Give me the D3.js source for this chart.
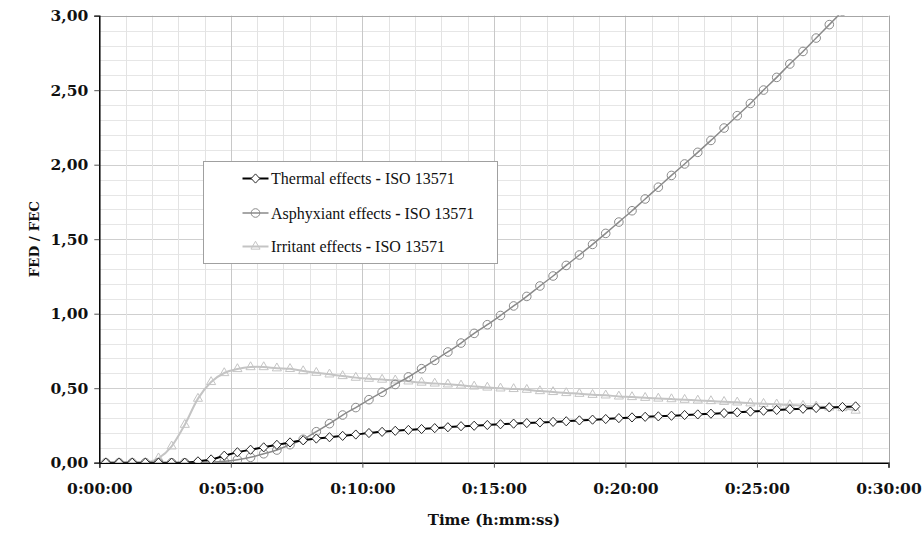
<!DOCTYPE html>
<html><head><meta charset="utf-8">
<script src="https://cdn.jsdelivr.net/npm/d3@7/dist/d3.min.js"></script>
<style>body{margin:0;background:#fff}svg{display:block}</style>
</head><body>
<svg id="chart" width="923" height="533"></svg>
<script>
// time of each sample, in seconds
const times = [15,45,75,105,135,165,195,225,255,285,315,345,375,405,435,465,495,525,555,585,615,645,675,705,735,765,795,825,855,885,915,945,975,1005,1035,1065,1095,1125,1155,1185,1215,1245,1275,1305,1335,1365,1395,1425,1455,1485,1515,1545,1575,1605,1635,1665,1695,1725];
const thermal = [0,0,0,0,0,0,0,0.009,0.022,0.047,0.07,0.087,0.103,0.12,0.136,0.15,0.162,0.171,0.18,0.189,0.199,0.207,0.214,0.22,0.226,0.232,0.238,0.245,0.248,0.253,0.258,0.262,0.266,0.27,0.274,0.278,0.284,0.289,0.293,0.299,0.304,0.308,0.311,0.315,0.32,0.324,0.329,0.333,0.338,0.343,0.349,0.354,0.359,0.362,0.367,0.371,0.374,0.378];
const asphyxiant = [0,0,0,0,0,0,0,0,0.003,0.009,0.02,0.036,0.06,0.085,0.121,0.157,0.208,0.262,0.32,0.37,0.423,0.473,0.525,0.576,0.631,0.687,0.743,0.803,0.868,0.926,0.988,1.052,1.116,1.186,1.253,1.324,1.394,1.465,1.539,1.615,1.691,1.77,1.849,1.928,2.005,2.083,2.163,2.246,2.329,2.411,2.501,2.586,2.676,2.76,2.85,2.94,3.03,3.12];
const irritant = [0,0,0,0,0.03,0.11,0.255,0.43,0.542,0.602,0.629,0.642,0.642,0.634,0.63,0.615,0.604,0.593,0.582,0.571,0.564,0.558,0.553,0.546,0.538,0.532,0.526,0.519,0.512,0.505,0.499,0.495,0.49,0.481,0.475,0.468,0.463,0.456,0.452,0.445,0.441,0.436,0.431,0.427,0.423,0.418,0.414,0.409,0.405,0.399,0.396,0.392,0.387,0.383,0.378,0.371,0.367,0.35];
const seriesNames = ["Thermal effects", "Asphyxiant effects", "Irritant effects"];
const seriesSuffix = "ISO 13571";
const xTickValues = [0,300,600,900,1200,1500,1800];
const xTickLabels = ["0:00:00","0:05:00","0:10:00","0:15:00","0:20:00","0:25:00","0:30:00"];
const yTickValues = [0,0.5,1,1.5,2,2.5,3];
const yTickLabels = ["0,00","0,50","1,00","1,50","2,00","2,50","3,00"];
const xTitle = "Time (h:mm:ss)";
const yTitle = "FED / FEC";

const svg = d3.select("#chart");
const L = 99.3, R = 888.5, T = 15.7, B = 462.7;
const x = d3.scaleLinear().domain([0,1800]).range([L,R]);
const y = d3.scaleLinear().domain([0,3]).range([B,T]);

svg.append("defs").append("clipPath").attr("id","clip")
  .append("rect").attr("x",L).attr("y",T-0.5).attr("width",R-L).attr("height",B-T+0.5);

// grid
const grid = svg.append("g");
grid.selectAll(".hmin").data(y.ticks(30)).join("line")
  .attr("x1",L).attr("x2",R).attr("y1",d=>Math.round(y(d))+0.5).attr("y2",d=>Math.round(y(d))+0.5)
  .attr("stroke",d=>Math.abs(d*2-Math.round(d*2))<1e-6?"#cfcfcf":"#e6e6e6").attr("stroke-width",1);
grid.selectAll(".vmin").data(d3.range(0,1801,60)).join("line")
  .attr("y1",T).attr("y2",B).attr("x1",d=>Math.round(x(d))+0.5).attr("x2",d=>Math.round(x(d))+0.5)
  .attr("stroke",d=>d%300===0?"#c8c8c8":"#e3e3e3").attr("stroke-width",1);
svg.append("line").attr("x1",L).attr("x2",R).attr("y1",Math.round(T)+0.5).attr("y2",Math.round(T)+0.5).attr("stroke","#a6a6a6");
svg.append("line").attr("x1",Math.round(R)+0.5).attr("x2",Math.round(R)+0.5).attr("y1",T).attr("y2",B).attr("stroke","#a6a6a6");

// axes
const fontB = "'DejaVu Serif', serif";
const xAxis = svg.append("g").attr("transform",`translate(0,${B})`)
  .call(d3.axisBottom(x).tickValues(xTickValues).tickFormat((d,i)=>xTickLabels[i]).tickSize(5).tickPadding(15));
const yAxis = svg.append("g").attr("transform",`translate(${L},0)`)
  .call(d3.axisLeft(y).tickValues(yTickValues).tickFormat((d,i)=>yTickLabels[i]).tickSize(5).tickPadding(6));
[xAxis,yAxis].forEach(a=>{
  a.select(".domain").attr("stroke","#000").attr("stroke-width",1.5);
  a.selectAll(".tick line").attr("stroke","#555");
  a.selectAll("text").attr("font-family",fontB).attr("font-weight","bold").attr("font-size","15.5px").attr("fill","#111");
});

svg.append("text").attr("x",(L+R)/2).attr("y",525).attr("text-anchor","middle")
  .attr("font-family",fontB).attr("font-weight","bold").attr("font-size","15px").attr("fill","#111").text(xTitle);
svg.append("text").attr("transform",`translate(39,${(T+B)/2}) rotate(-90)`).attr("text-anchor","middle")
  .attr("font-family",fontB).attr("font-weight","bold").attr("font-size","13.5px").attr("fill","#111").text(yTitle);

// series
const series = [
  {name:seriesNames[2], vals:irritant, line:"#c4c4c4", lw:2, mk:"#c4c4c4", shape:"tri", fill:"none"},
  {name:seriesNames[1], vals:asphyxiant, line:"#8a8a8a", lw:1.5, mk:"#8a8a8a", shape:"circ", fill:"none"},
  {name:seriesNames[0], vals:thermal, line:"#000", lw:2, mk:"#2a2a2a", shape:"dia", fill:"#fff"}
];
const line = d3.line().x(d=>x(d[0])).y(d=>y(d[1])).curve(d3.curveCardinal);
const diamond = {draw(ctx){ ctx.moveTo(0,-4.6); ctx.lineTo(4.3,0); ctx.lineTo(0,4.6); ctx.lineTo(-4.3,0); ctx.closePath(); }};
const sym = {
  tri: d3.symbol().type(d3.symbolTriangle).size(36),
  circ: d3.symbol().type(d3.symbolCircle).size(58),
  dia: d3.symbol().type(diamond)
};
const plot = svg.append("g").attr("clip-path","url(#clip)");
series.forEach(s=>{
  const pts = times.map((t,i)=>[t,s.vals[i]]);
  plot.append("path").datum(pts).attr("d",line).attr("fill","none").attr("stroke",s.line).attr("stroke-width",s.lw);
  plot.append("g").selectAll("path").data(pts).join("path")
    .attr("transform",d=>`translate(${x(d[0])},${y(d[1])})`)
    .attr("d",sym[s.shape]()).attr("fill",s.fill).attr("stroke",s.mk).attr("stroke-width",1);
});

// legend
const lg = svg.append("g");
lg.append("rect").attr("x",203.5).attr("y",161.5).attr("width",294).attr("height",102)
  .attr("fill","#fff").attr("stroke","#a0a0a0");
const rows = [series[2],series[1],series[0]];
const rowY = [178.5,213,246.5];
rows.forEach((s,i)=>{
  const yy = rowY[i];
  lg.append("line").attr("x1",242.5).attr("x2",268.5).attr("y1",yy).attr("y2",yy).attr("stroke",s.line).attr("stroke-width",s.lw);
  lg.append("path").attr("transform",`translate(255.5,${yy})`).attr("d",sym[s.shape]()).attr("fill",s.fill).attr("stroke",s.mk);
  const t = lg.append("text").attr("x",271).attr("y",yy+5.5).attr("font-family","'Liberation Serif', serif").attr("font-size","16px").attr("fill","#111");
  t.append("tspan").text(s.name+" ");
  t.append("tspan").attr("font-weight","bold").text("-");
  t.append("tspan").text(" "+seriesSuffix);
});
</script>
</body></html>
